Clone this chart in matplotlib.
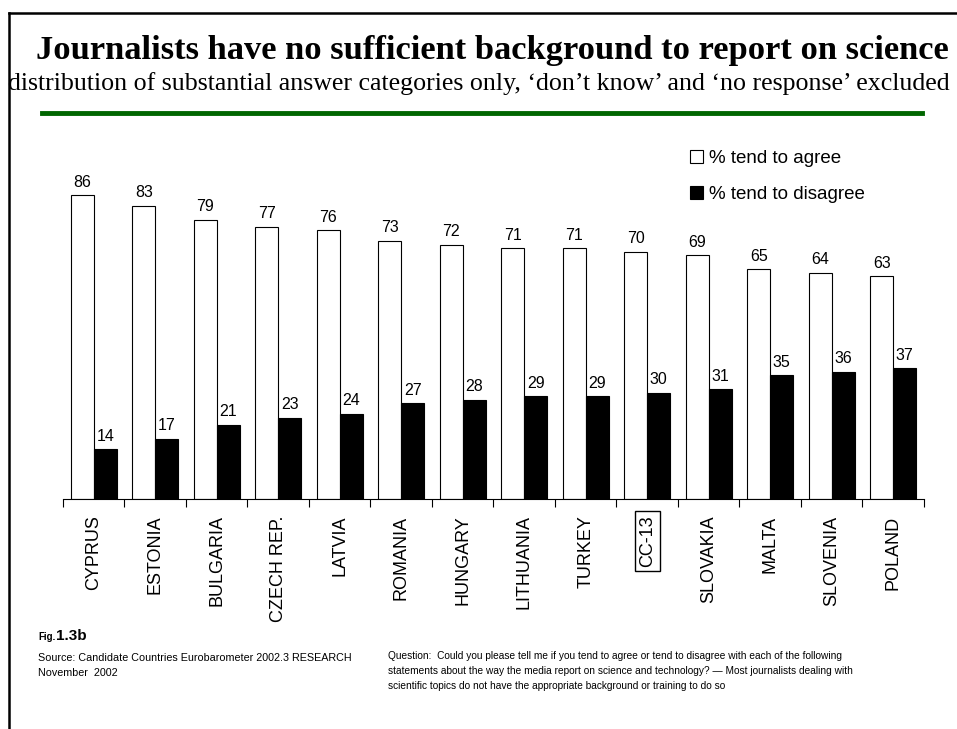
import numpy as np
import matplotlib
matplotlib.use("Agg")
import matplotlib.pyplot as plt

countries = ['CYPRUS', 'ESTONIA', 'BULGARIA', 'CZECH REP.', 'LATVIA', 'ROMANIA', 'HUNGARY',
             'LITHUANIA', 'TURKEY', 'CC-13', 'SLOVAKIA', 'MALTA', 'SLOVENIA', 'POLAND']
agree = [86, 83, 79, 77, 76, 73, 72, 71, 71, 70, 69, 65, 64, 63]
disagree = [14, 17, 21, 23, 24, 27, 28, 29, 29, 30, 31, 35, 36, 37]

plt.rcParams['font.family'] = ['Liberation Sans', 'DejaVu Sans']

fig = plt.figure(figsize=(9.57, 7.29), dpi=100)
ax = fig.add_axes([0.0658, 0.3159, 0.8997, 0.4842])

x = np.arange(len(countries))
w = 0.374
b1 = ax.bar(x - w / 2, agree, w, color='white', edgecolor='black', linewidth=0.8,
            label='% tend to agree')
b2 = ax.bar(x + w / 2, disagree, w, color='black', edgecolor='black', linewidth=0.8,
            label='% tend to disagree')
ax.bar_label(b1, padding=4, fontsize=11.5)
ax.bar_label(b2, padding=4, fontsize=11.5)

ax.set_xlim(-0.5, len(countries) - 0.5)
ax.set_ylim(0, 100)
for s in ['top', 'right', 'left']:
    ax.spines[s].set_visible(False)
ax.spines['bottom'].set_linewidth(0.8)
ax.set_yticks([])
# tick marks between groups, names under each group
ax.set_xticks(np.arange(len(countries) + 1) - 0.5)
ax.set_xticklabels([])
ax.tick_params(axis='x', length=6, width=0.8, direction='out')
ax.set_xticks(x, minor=True)
ax.set_xticklabels(countries, minor=True, rotation=90, fontsize=13, va='top')
ax.tick_params(axis='x', which='minor', length=0, pad=12)
for lab in ax.get_xticklabels(minor=True):
    if lab.get_text() == 'CC-13':
        lab.set_bbox(dict(facecolor='none', edgecolor='black', linewidth=1, pad=3))

ax.legend(loc='upper left', bbox_to_anchor=(0.709, 1.036), frameon=False, fontsize=13.5,
          handlelength=0.7, handleheight=0.7, handletextpad=0.3, labelspacing=1.0)

# title block
fig.text(0.515, 0.919, 'Journalists have no sufficient background to report on science',
         ha='center', va='baseline', fontsize=24.8, fontweight='bold', family='Liberation Serif')
fig.text(0.5, 0.877, "distribution of substantial answer categories only, \u2018don\u2019t know\u2019 "
         "and \u2018no response\u2019 excluded", ha='center', va='baseline', fontsize=18.6,
         family='Liberation Serif')
fig.add_artist(plt.Line2D([0.044, 0.963], [0.845, 0.845], color='#006600', linewidth=3.5))

# frame lines
fig.add_artist(plt.Line2D([0.009, 0.009], [0, 0.982], color='black', linewidth=1.8))
fig.add_artist(plt.Line2D([0.009, 1], [0.982, 0.982], color='black', linewidth=1.8))

# footnotes (va='baseline' on multi-line text sits on the last line)
fig.text(0.040, 0.122, 'Fig.', fontsize=7, fontweight='bold', va='baseline')
fig.text(0.0585, 0.122, '1.3b', fontsize=11, fontweight='bold', va='baseline')
fig.text(0.040, 0.0727, 'Source: Candidate Countries Eurobarometer 2002.3 RESEARCH\nNovember  2002',
         fontsize=7.75, va='baseline', linespacing=1.62)
fig.text(0.405, 0.055, 'Question:  Could you please tell me if you tend to agree or tend to disagree with each of the following\n'
         'statements about the way the media report on science and technology? \u2014 Most journalists dealing with\n'
         'scientific topics do not have the appropriate background or training to do so',
         fontsize=7.3, va='baseline', linespacing=1.61)

fig.savefig('out.png', dpi=100)
